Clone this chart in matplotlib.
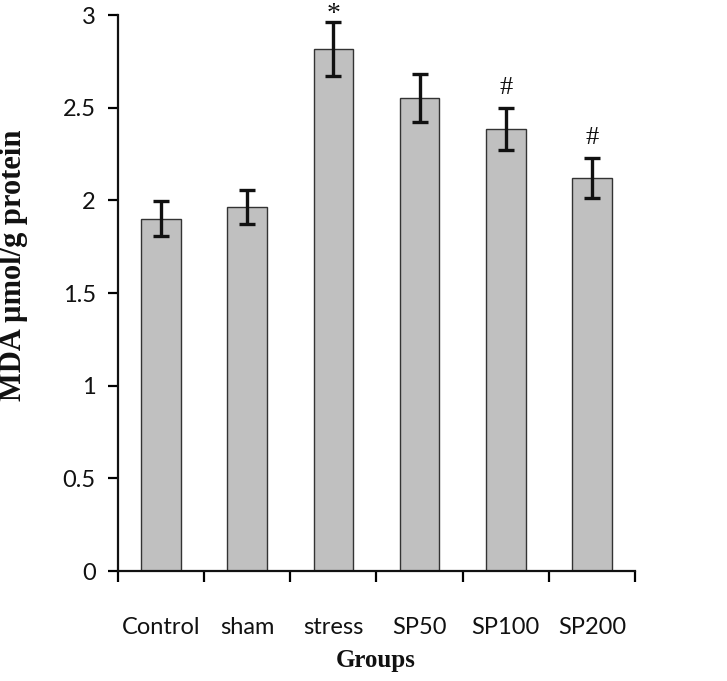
import matplotlib
matplotlib.use("Agg")
import matplotlib.pyplot as plt
import numpy as np

groups = ["Control", "sham", "stress", "SP50", "SP100", "SP200"]
mda = [1.90, 1.965, 2.815, 2.55, 2.385, 2.12]
sem = [0.095, 0.09, 0.145, 0.13, 0.115, 0.11]
marks = ["", "", "*", "", "#", "#"]

W, H = 727, 681
fig = plt.figure(figsize=(W / 100, H / 100), dpi=100)
ax = fig.add_axes([118/W, 110/H, (635-118)/W, (571-15)/H])

x = np.arange(len(groups))
ax.bar(x, mda, width=0.46, color="#c0c0c0", edgecolor="#333333", linewidth=1.0, zorder=2)
ax.errorbar(x, mda, yerr=sem, fmt="none", ecolor="#111111", elinewidth=2.4,
            capsize=6, capthick=2.4, zorder=3)

# significance marks
for xi, m, s, t in zip(x, mda, sem, marks):
    if t == "*":
        ax.text(xi, m + s + 0.045, t, ha="center", va="center", fontsize=20,
                family="Liberation Serif", color="#111111", clip_on=False)
    elif t:
        ax.text(xi, m + s + 0.105, t, ha="center", va="center", fontsize=19,
                family="Liberation Serif", color="#111111", clip_on=False)

ax.set_xlim(-0.5, len(groups) - 0.5)
ax.set_ylim(0, 3)
ax.set_yticks([0, 0.5, 1, 1.5, 2, 2.5, 3])
ax.set_yticklabels(["0", "0.5", "1", "1.5", "2", "2.5", "3"])
ax.set_xticks(np.arange(-0.5, len(groups)))
ax.set_xticklabels([])
ax.set_xticks(x, minor=True)
ax.set_xticklabels(groups, minor=True)
ax.tick_params(axis="x", which="major", length=8, width=1.6, direction="out")
ax.tick_params(axis="x", which="minor", length=0, pad=33, labelsize=17)
ax.tick_params(axis="y", length=7, width=1.6, direction="out", labelsize=17, pad=9)
for lab in ax.get_xticklabels(minor=True) + ax.get_yticklabels():
    lab.set_family("Lato")
    lab.set_color("#111111")

for sp in ["top", "right"]:
    ax.spines[sp].set_visible(False)
for sp in ["left", "bottom"]:
    ax.spines[sp].set_linewidth(1.6)
    ax.spines[sp].set_color("#111111")

# axis titles
fig.text(376/W, 1 - 660/H, "Groups", ha="center", va="center",
         family="Liberation Serif", weight="bold", fontsize=18, color="#111111")
fig.text(14/W, 1 - 265/H, "MDA \u00b5mol/g protein", ha="center", va="center", rotation=90,
         family="Liberation Serif", weight="bold", fontsize=22, color="#111111")

fig.savefig("out.png", dpi=100)
